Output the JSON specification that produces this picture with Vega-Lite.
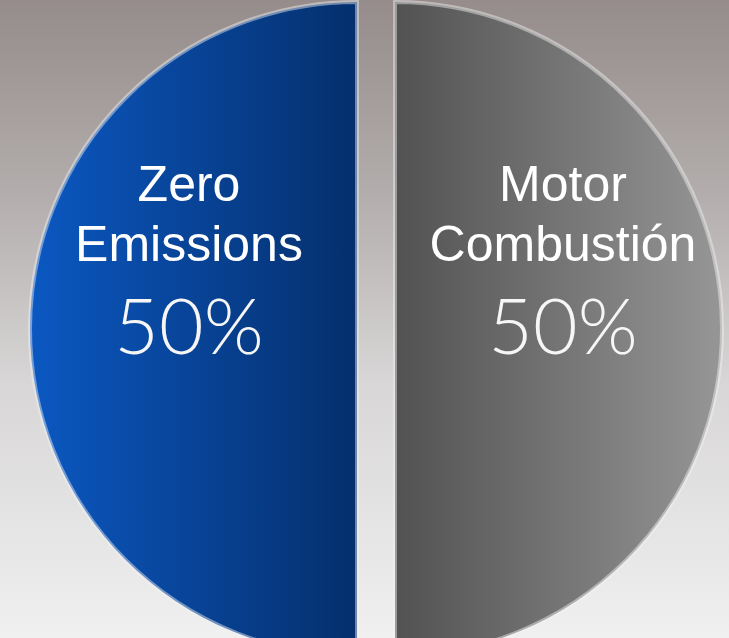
{
  "$schema": "https://vega.github.io/schema/vega-lite/v6.json",
  "width": 729,
  "height": 638,
  "autosize": {"type": "none"},
  "padding": 0,
  "background": "#c8c5c5",
  "config": {"view": {"stroke": null}},
  "datasets": {
    "slices": [
      {"slice": "Motor Combustión", "line1": "Motor", "line2": "Combustión", "label": "50%", "pct": 50, "order": 1},
      {"slice": "Zero Emissions", "line1": "Zero", "line2": "Emissions", "label": "50%", "pct": 50, "order": 2}
    ]
  },
  "layer": [
    {
      "data": {"values": [{}]},
      "mark": {
        "type": "rect",
        "fill": {
          "gradient": "linear", "x1": 0, "y1": 0, "x2": 0, "y2": 1,
          "stops": [
            {"offset": 0, "color": "#958c8b"},
            {"offset": 0.3, "color": "#b2adac"},
            {"offset": 0.6, "color": "#d8d6d6"},
            {"offset": 1, "color": "#f0f0f1"}
          ]
        }
      },
      "encoding": {}
    },
    {
      "data": {"name": "slices"},
      "transform": [
        {"stack": "pct", "groupby": [], "sort": [{"field": "order", "order": "ascending"}], "as": ["p0", "p1"]},
        {"filter": "datum.slice === 'Zero Emissions'"}
      ],
      "mark": {
        "type": "arc",
        "radius": 327,
        "xOffset": -7.5,
        "yOffset": 10,
        "stroke": "#f4f4f4",
        "strokeOpacity": 0.45,
        "strokeWidth": 4,
        "fill": {
          "gradient": "linear", "x1": 0, "y1": 0, "x2": 1, "y2": 0,
          "stops": [
            {"offset": 0, "color": "#0b58c2"},
            {"offset": 1, "color": "#052f6c"}
          ]
        }
      },
      "encoding": {
        "theta": {"field": "p0", "type": "quantitative", "stack": null, "scale": {"domain": [0, 100]}},
        "theta2": {"field": "p1"}
      }
    },
    {
      "data": {"name": "slices"},
      "transform": [
        {"stack": "pct", "groupby": [], "sort": [{"field": "order", "order": "ascending"}], "as": ["p0", "p1"]},
        {"filter": "datum.slice === 'Motor Combustión'"}
      ],
      "mark": {
        "type": "arc",
        "radius": 327,
        "xOffset": 30.5,
        "yOffset": 10,
        "stroke": "#f4f4f4",
        "strokeOpacity": 0.45,
        "strokeWidth": 4,
        "fill": {
          "gradient": "linear", "x1": 0, "y1": 0, "x2": 1, "y2": 0,
          "stops": [
            {"offset": 0, "color": "#525252"},
            {"offset": 1, "color": "#969696"}
          ]
        }
      },
      "encoding": {
        "theta": {"field": "p0", "type": "quantitative", "stack": null, "scale": {"domain": [0, 100]}},
        "theta2": {"field": "p1"}
      }
    },
    {
      "data": {"name": "slices"},
      "mark": {"type": "text", "radius": 187, "xOffset": 11.5, "yOffset": 8, "dy": -126, "font": "Liberation Sans", "fontSize": 50, "color": "#ffffff", "baseline": "alphabetic", "align": "center"},
      "encoding": {
        "theta": {"field": "pct", "type": "quantitative", "stack": true, "scale": {"domain": [0, 100]}},
        "order": {"field": "order", "type": "quantitative"},
        "text": {"field": "line1"}
      }
    },
    {
      "data": {"name": "slices"},
      "mark": {"type": "text", "radius": 187, "xOffset": 11.5, "yOffset": 8, "dy": -66, "font": "Liberation Sans", "fontSize": 50, "color": "#ffffff", "baseline": "alphabetic", "align": "center"},
      "encoding": {
        "theta": {"field": "pct", "type": "quantitative", "stack": true, "scale": {"domain": [0, 100]}},
        "order": {"field": "order", "type": "quantitative"},
        "text": {"field": "line2"}
      }
    },
    {
      "data": {"name": "slices"},
      "mark": {"type": "text", "radius": 187, "xOffset": 11.5, "yOffset": 8, "dy": 27, "font": "Lato", "fontWeight": 300, "fontSize": 77, "color": "#f6f6f6", "baseline": "alphabetic", "align": "center"},
      "encoding": {
        "theta": {"field": "pct", "type": "quantitative", "stack": true, "scale": {"domain": [0, 100]}},
        "order": {"field": "order", "type": "quantitative"},
        "text": {"field": "label"}
      }
    }
  ]
}
